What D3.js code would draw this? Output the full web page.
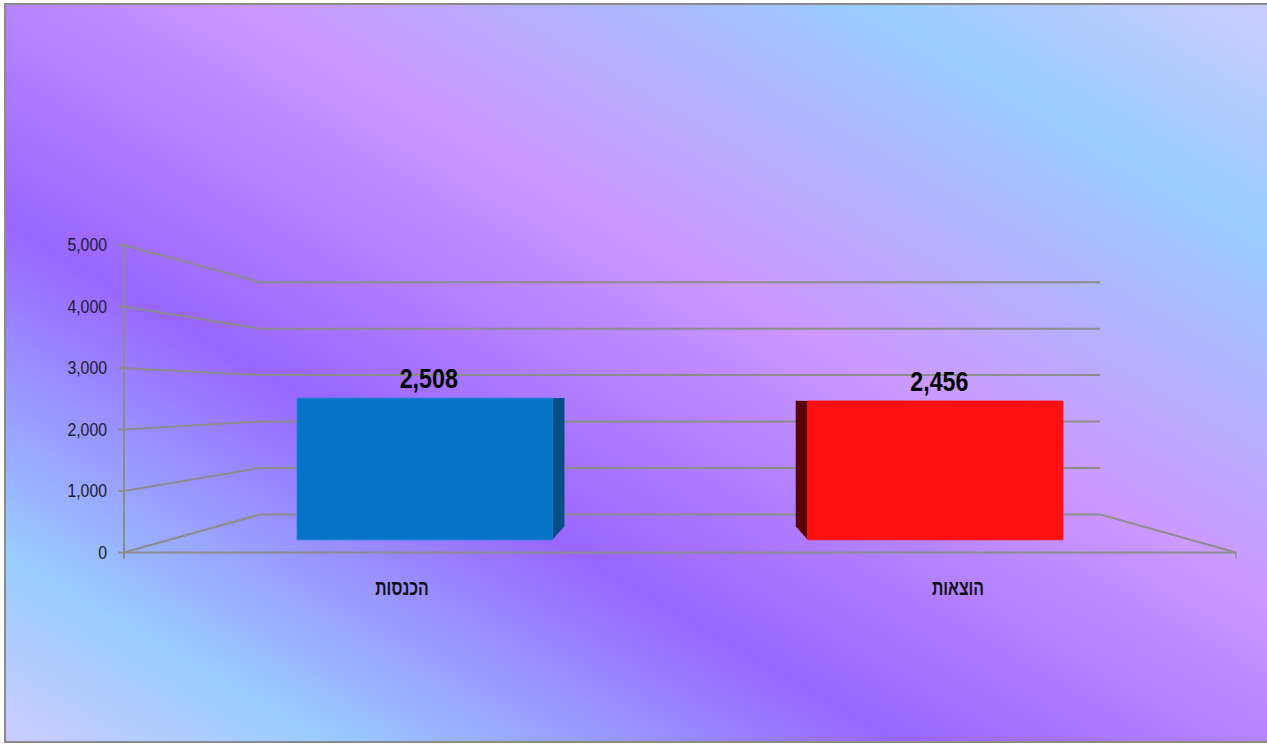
<!DOCTYPE html>
<html><head><meta charset="utf-8">
<script src="https://cdn.jsdelivr.net/npm/d3@7"></script>
<style>body{margin:0;background:#fff;overflow:hidden}</style>
</head><body><svg id="c" width="1267" height="744"></svg>
<script>
// ---- data ----
const categories = ["הכנסות", "הוצאות"];
const values = [2508, 2456];
const tickValues = [0, 1000, 2000, 3000, 4000, 5000];
const barColors = ["#0674c6", "#ff1010"];
const sideColors = ["#054f86", "#580000"];
const topColors = ["#2a8ad6", "#ff4a4a"];

const svg = d3.select("#c");
const W = 1267, H = 744;

// background gradient
const defs = svg.append("defs");
const grad = defs.append("linearGradient").attr("id", "bg")
  .attr("gradientUnits", "userSpaceOnUse")
  .attr("x1", -323).attr("y1", 557).attr("x2", 319).attr("y2", -550);
[[0, "#ccccff"], [0.13, "#99ccff"], [0.355, "#9966ff"], [0.6, "#cc99ff"], [0.84, "#99ccff"], [1, "#ccccff"]]
  .forEach(([o, c]) => grad.append("stop").attr("offset", o).attr("stop-color", c));

svg.append("rect").attr("x", 5).attr("y", 4).attr("width", 1300).attr("height", 738)
  .attr("fill", "url(#bg)").attr("stroke", "#8a8a8a").attr("stroke-width", 2);

// ---- scales & projection ----
const y = d3.scaleLinear().domain([0, 5000]).range([552.5, 245]);
const x = d3.scaleBand().domain(categories).range([124, 1236]).paddingInner(0.5).paddingOuter(0.25);
const vp = [680.5, 397];
const depth = 0.245;
function P(X, v, z) {
  const k = 1 - depth * z;
  return [vp[0] + (X - vp[0]) * k, vp[1] + (y(v) - vp[1]) * k];
}
const line = d3.line();
const gridColor = "#8c8c8c";

// gridlines: side wall + back wall
const g = svg.append("g");
const X0 = x.range()[0], X1 = x.range()[1];
tickValues.forEach(t => {
  g.append("path").attr("d", line([[X0 - 6, y(t)], P(X0, t, 0), P(X0, t, 1), P(X1, t, 1)]))
    .attr("fill", "none").attr("stroke", gridColor).attr("stroke-width", 2);
});
// floor right edge
g.append("path").attr("d", line([P(X1, 0, 1), P(X1, 0, 0)]))
  .attr("fill", "none").attr("stroke", gridColor).attr("stroke-width", 2);
// y axis
g.append("path").attr("d", line([P(X0, 5000, 0), [X0, y(0) + 6]]))
  .attr("fill", "none").attr("stroke", gridColor).attr("stroke-width", 2);
// x axis + ticks
g.append("path").attr("d", line([P(X0, 0, 0), P(X1, 0, 0)]))
  .attr("fill", "none").attr("stroke", gridColor).attr("stroke-width", 2);
const bounds = [X0, (X0 + X1) / 2, X1];
bounds.forEach(b => g.append("path").attr("d", line([[b, y(0)], [b, y(0) + 6]]))
  .attr("stroke", gridColor).attr("stroke-width", 1.5));

// tick labels
tickValues.forEach(t => {
  g.append("g").attr("transform", `translate(107,${y(t)})`)
    .append("text").attr("transform", "scale(0.88,1)")
    .attr("text-anchor", "end").attr("dy", "0.36em")
    .style("font-family", "'Liberation Sans', Arial, sans-serif").style("font-size", "18px")
    .attr("fill", "#1b1b2b").text(d3.format(",")(t));
});

// bars
const z0 = 1 / 3, z1 = 0.686;
const bars = svg.append("g");
categories.forEach((c, i) => {
  const a = x(c), b = x(c) + x.bandwidth(), v = values[i];
  const poly = pts => bars.append("path").attr("d", line(pts) + "Z");
  // top face
  if (y(v) > vp[1]) poly([P(a, v, z0), P(b, v, z0), P(b, v, z1), P(a, v, z1)]).attr("fill", topColors[i]);
  // side face
  if (b < vp[0]) poly([P(b, 0, z0), P(b, v, z0), P(b, v, z1), P(b, 0, z1)]).attr("fill", sideColors[i]);
  if (a > vp[0]) poly([P(a, 0, z0), P(a, v, z0), P(a, v, z1), P(a, 0, z1)]).attr("fill", sideColors[i]);
  // front face
  poly([P(a, 0, z0), P(b, 0, z0), P(b, v, z0), P(a, v, z0)]).attr("fill", barColors[i])
    .attr("stroke", d3.color(barColors[i]).brighter(0.3)).attr("stroke-width", 0.8);
  // value label
  const top = P((a + b) / 2, v, z0);
  svg.append("g").attr("transform", `translate(${top[0] + 4},${top[1] - 10})`)
    .append("text").attr("transform", "scale(0.83,1)").attr("text-anchor", "middle")
    .style("font-family", "'Liberation Sans', Arial, sans-serif").style("font-size", "28px")
    .style("font-weight", "bold").attr("fill", "#000").text(d3.format(",")(v));
  // category label
  svg.append("g").attr("transform", `translate(${x(c) + x.bandwidth() / 2},595)`)
    .append("text").attr("transform", "scale(0.72,1)").attr("text-anchor", "middle")
    .style("font-family", "'Liberation Sans', Arial, sans-serif").style("font-size", "22px")
    .style("font-weight", "bold").attr("fill", "#111").text(c);
});
</script></body></html>
